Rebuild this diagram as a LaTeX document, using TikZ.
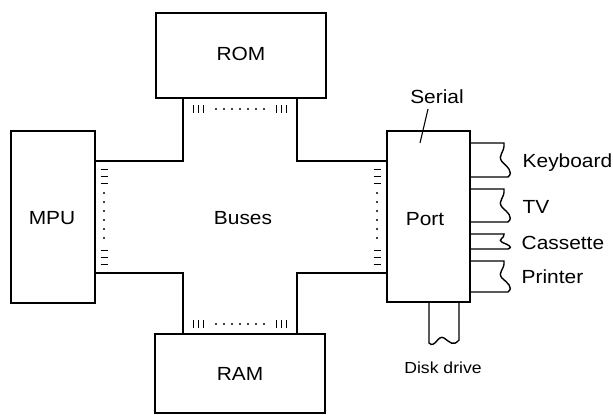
\documentclass[tikz,border=0pt]{standalone}
\usepackage{fontspec}
\setmainfont[FakeStretch=1.1]{Liberation Sans}
\begin{document}
\begin{tikzpicture}[x=1pt,y=-1pt,line width=1.4pt,
  unit/.style={draw,rectangle,inner sep=0pt},
  lbl/.style={inner sep=0pt,font=\fontsize{19}{22}\selectfont},
  small/.style={inner sep=0pt,font=\fontsize{16}{19}\selectfont},
  bar/.style={line width=0.9pt},
  dotm/.style={fill=black,draw=none}]
\useasboundingbox (0,0) rectangle (613,416);
% units
\node[unit,minimum width=170pt,minimum height=85pt] (rom) at (241,55.5) {};
\node[unit,minimum width=84pt,minimum height=172pt] (mpu) at (53,217) {};
\node[unit,minimum width=83pt,minimum height=171pt] (port) at (428.5,216.5) {};
\node[unit,minimum width=170pt,minimum height=79pt] (ram) at (240,373.5) {};
\node[lbl] (romt) at (241,54) {ROM};
\node[lbl] (mput) at (52,218) {MPU};
\node[lbl] (portt) at (425,219) {Port};
\node[lbl] (ramt) at (240,374) {RAM};
\node[lbl] (buses) at (243,218) {Buses};
% bus outline
\coordinate (tl) at (183,161);
\coordinate (tr) at (297,161);
\coordinate (bl) at (183,273);
\coordinate (br) at (297,273);
\draw (rom.south -| tl) -- (tl) -- (tl -| mpu.east);
\draw (bl -| mpu.east) -- (bl) -- (ram.north -| bl);
\draw (ram.north -| br) -- (br) -- (br -| port.west);
\draw (tr -| port.west) -- (tr) -- (rom.south -| tr);
% bus markers (horizontal rows)
\foreach \yy in {109,324}{
  \foreach \dx in {-47,-42,-37,36,41,46}{\draw[bar] (240+\dx,\yy-4) -- (240+\dx,\yy+4);}
  \foreach \dx in {-24,-16,-8,0,8,16,24}{\fill[dotm] (240+\dx,\yy) circle (1.2pt);}
}
% bus markers (vertical columns)
\foreach \xx in {104,377}{
  \foreach \dy in {-48,-41,-34,33,40,47}{\draw[bar] (\xx-3.5,217+\dy) -- (\xx+3.5,217+\dy);}
  \foreach \dy in {-24,-15,-6,3,12,21}{\fill[dotm] (\xx,217+\dy) circle (1.2pt);}
}
% serial label
\node[lbl] (serial) at (437,97) {Serial};
\coordinate (s1) at (428,109);
\coordinate (s2) at (420,143);
\draw[line width=1.1pt] (s1) -- (s2);
% cables
\foreach \ya/\yb in {143/177,189/222,234/249,261/292}{
  \pgfmathsetmacro{\hh}{\yb-\ya}
  \draw (port.east |- 0,\ya) -- (504,\ya)
    .. controls (505,\ya+0.3*\hh) and (497,\ya+0.35*\hh) .. (502,\ya+0.55*\hh)
    .. controls (507,\ya+0.7*\hh) and (514,\ya+0.85*\hh) .. (508,\yb)
    -- (port.east |- 0,\yb);
}
\node[lbl,anchor=west] (kb) at (522,163) {Keyboard};
\node[lbl,anchor=west] (tv) at (522,207) {TV};
\node[lbl,anchor=west] (cas) at (521,243) {Cassette};
\node[lbl,anchor=west] (prn) at (521,277) {Printer};
% disk drive cable
\draw (port.south -| 429,0) -- (429,343)
  .. controls (435,349) and (438,334) .. (444,338)
  .. controls (450,342) and (453,347) .. (459,340)
  -- (port.south -| 459,0);
\node[small] (disk) at (443,368) {Disk drive};
\end{tikzpicture}
\end{document}
